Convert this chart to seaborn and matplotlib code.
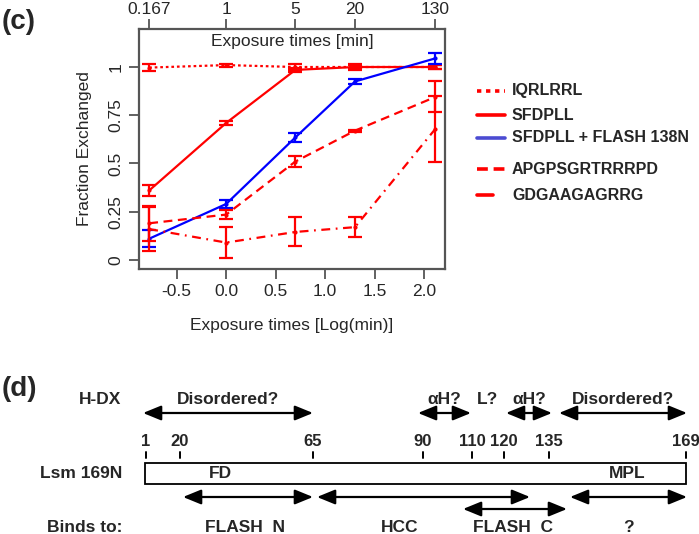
import numpy as np
import pandas as pd
import seaborn as sns
import matplotlib.pyplot as plt
from matplotlib.lines import Line2D
from matplotlib.patches import Rectangle, FancyArrowPatch

# exposure times in minutes (top axis) and the series
times_min = [0.167, 1, 5, 20, 130]
time_labels = ['0.167', '1', '5', '20', '130']

iqrlrrl = [0.997, 1.01, 1.0, 1.0, 1.0]
iqrlrrl_err = [0.02, 0.008, 0.015, 0.018, 0.008]
sfdpll = [0.36, 0.71, 0.985, 1.0, 1.0]
sfdpll_err = [0.03, 0.012, 0.012, 0.01, 0.01]
sfdpll_flash = [0.11, 0.29, 0.635, 0.925, 1.045]
sfdpll_flash_err = [0.045, 0.02, 0.025, 0.015, 0.03]
apgps = [0.19, 0.235, 0.51, 0.67, 0.845]
apgps_err = [0.09, 0.025, 0.03, 0.005, 0.08]
gdgaa = [0.16, 0.09, 0.145, 0.17, 0.68]
gdgaa_err = [0.115, 0.08, 0.075, 0.05, 0.17]

series_names = ['IQRLRRL', 'SFDPLL', 'SFDPLL + FLASH 138N', 'APGPSGRTRRRPD', 'GDGAAGAGRRG']

# panel (d): residue markers on the schematic (drawn not to scale)
residues = ['1', '20', '65', '90', '110', '120', '135', '169']
residue_px = [146, 180, 313, 423, 472, 504, 549, 686]
hdx_regions = [('Disordered?', 143, 313), ('\u03b1H?', 418, 471), ('\u03b1H?', 506, 552), ('Disordered?', 559, 687)]
bind_regions = [('FLASH  N', 183, 313, 497), ('HCC', 317, 530, 497), ('FLASH  C', 463, 567, 509), ('?', 570, 687, 497)]

sns.set_style('white')
plt.rcParams['font.family'] = ['Liberation Sans', 'DejaVu Sans']
plt.rcParams['axes.unicode_minus'] = False

fig = plt.figure(figsize=(6.99, 5.34), dpi=100)
ax = fig.add_axes([139 / 699, 1 - 269 / 534, 306 / 699, 240 / 534])

log_t = np.log10(times_min)
styles = [
    (iqrlrrl, iqrlrrl_err, 'red', (0, (1.2, 1.3))),
    (sfdpll, sfdpll_err, 'red', '-'),
    (sfdpll_flash, sfdpll_flash_err, 'blue', '-'),
    (apgps, apgps_err, 'red', (0, (4, 2.5))),
    (gdgaa, gdgaa_err, 'red', (0, (4, 2.5, 0.8, 2.5))),
]
for (vals, errs, col, ls), name in zip(styles, series_names):
    df = pd.DataFrame({'x': log_t, 'y': vals})
    sns.lineplot(data=df, x='x', y='y', ax=ax, color=col, linestyle=ls, linewidth=1.6,
                 marker='o', markersize=3, markeredgewidth=0, legend=False)
    ax.errorbar(log_t, vals, yerr=errs, fmt='none', ecolor=col, elinewidth=1.6,
                capsize=5, capthick=1.6)

ax.set_xlim(-0.88, 2.21)
ax.set_ylim(-0.047, 1.197)
ax.set_xticks([-0.5, 0, 0.5, 1, 1.5, 2])
ax.set_xticklabels(['-0.5', '0.0', '0.5', '1.0', '1.5', '2.0'])
ax.set_yticks([0, 0.25, 0.5, 0.75, 1])
ax.set_yticklabels(['0', '0.25', '0.5', '0.75', '1'], rotation=90, va='center')
ax.tick_params(axis='both', direction='out', length=7, width=1.3, color='#555555',
               labelsize=12.5, pad=4, bottom=True, left=True)
for s in ax.spines.values():
    s.set_color('#555555')
    s.set_linewidth(1.6)
ax.set_xlabel('Exposure times [Log(min)]', fontsize=12.5)
ax.xaxis.set_label_coords(0.5, -0.205)
ax.set_ylabel('Fraction Exchanged', fontsize=12.5)
ax.yaxis.set_label_coords(-0.155, 0.5)
ax.text(0.5, 0.946, 'Exposure times [min]', transform=ax.transAxes,
        ha='center', va='center', fontsize=12.5)

top = ax.twiny()
top.set_xlim(ax.get_xlim())
top.set_xticks(log_t)
top.set_xticklabels(time_labels)
top.tick_params(axis='x', direction='out', length=7, width=1.3, color='#555555',
                labelsize=12.5, pad=2, top=True)
for s in top.spines.values():
    s.set_visible(False)

# overlay in pixel coordinates for the legend and panel (d)
ov = fig.add_axes([0, 0, 1, 1], zorder=-1)
ov.set_xlim(0, 699)
ov.set_ylim(534, 0)
ov.axis('off')

leg_y = [91, 115, 138, 169, 195]
leg_cols = ['red', 'red', '#4b4bd2', 'red', 'red']
leg_ls = [(0, (1.2, 1.3)), '-', '-', (0, (3, 1.6)), '-']
leg_x1 = [505, 505, 505, 505, 493]
for y, col, ls, x1, name in zip(leg_y, leg_cols, leg_ls, leg_x1, series_names):
    ov.add_line(Line2D([477, x1], [y, y], color=col, linestyle=ls, linewidth=2.6))
    ov.text(512, y, name, ha='left', va='center', fontsize=11.5, fontweight='bold')

ov.text(2, 22, '(c)', fontsize=20, fontweight='bold', ha='left', va='center')
ov.text(2, 389, '(d)', fontsize=20, fontweight='bold', ha='left', va='center')

ov.text(121, 399, 'H-DX', fontsize=12.5, fontweight='bold', ha='right', va='center')
ov.text(122, 474, 'Lsm 169N', fontsize=12.5, fontweight='bold', ha='right', va='center')
ov.text(122, 527, 'Binds to:', fontsize=12.5, fontweight='bold', ha='right', va='center')


def arrow(x0, x1, y):
    ov.add_patch(FancyArrowPatch((x0, y), (x1, y), arrowstyle='<|-|>,head_length=1.1,head_width=0.45',
                                 mutation_scale=10, shrinkA=0, shrinkB=0, color='black', lw=1.6))


for name, x0, x1 in hdx_regions:
    arrow(x0, x1, 413)
    ov.text((x0 + x1) / 2, 400, name, fontsize=12.5, fontweight='bold', ha='center', va='center')
ov.text(487, 400, 'L?', fontsize=12.5, fontweight='bold', ha='center', va='center')

ov.add_patch(Rectangle((145, 463), 541, 21, facecolor='white', edgecolor='black', lw=1.3))
for lab, x in zip(residues, residue_px):
    ov.add_line(Line2D([x, x], [452, 458], color='black', linewidth=1.4))
    ov.text(x, 441, lab, fontsize=12, fontweight='bold', ha='center', va='center')
ov.text(220, 474, 'FD', fontsize=12.5, fontweight='bold', ha='center', va='center')
ov.text(627, 474, 'MPL', fontsize=12.5, fontweight='bold', ha='center', va='center')

label_x = {'FLASH  N': 245, 'HCC': 400, 'FLASH  C': 513, '?': 628}
for name, x0, x1, y in bind_regions:
    arrow(x0, x1, y)
    ov.text(label_x[name], 527, name, fontsize=12.5, fontweight='bold', ha='center', va='center')

fig.savefig('out.png', dpi=100)
